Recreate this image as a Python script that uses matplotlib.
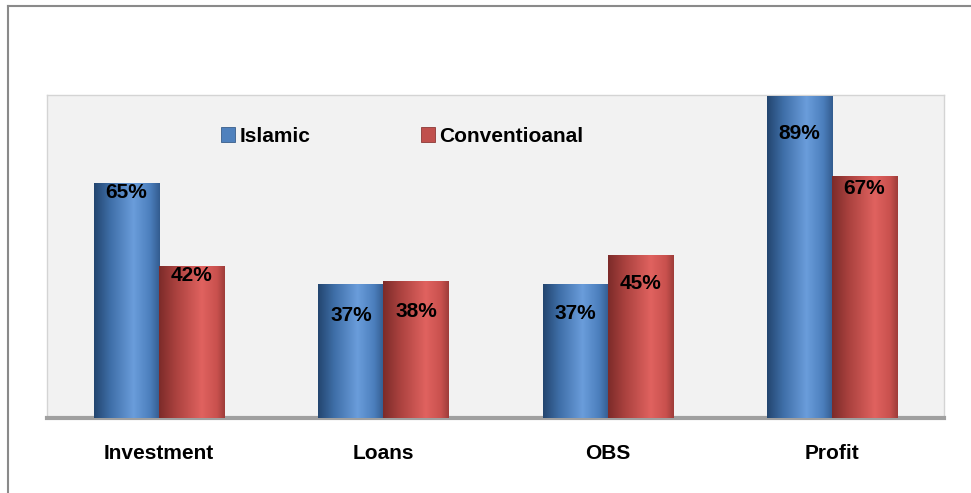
import numpy as np
import matplotlib
matplotlib.use('Agg')
import matplotlib.pyplot as plt
from matplotlib.colors import LinearSegmentedColormap
from matplotlib.lines import Line2D

plt.rcParams['font.family'] = ['Liberation Sans', 'DejaVu Sans']

# Data
categories = ['Investment', 'Loans', 'OBS', 'Profit']
islamic = [65, 37, 37, 89]
conventional = [42, 38, 45, 67]
series_names = ['Islamic', 'Conventioanal']

# label offsets below bar top (pixels)
islamic_label_drop = [10, 31, 29, 37]
conv_label_drop = [9, 31, 28, 13]

W, H = 971, 493
fig = plt.figure(figsize=(W / 100, H / 100), dpi=100)
fig.patch.set_facecolor('white')

# outer chart border (top and left edges)
fig.add_artist(Line2D([8 / W, 1.0], [1 - 6 / H, 1 - 6 / H], transform=fig.transFigure,
                      color='#8a8a8a', lw=1.5))
fig.add_artist(Line2D([8 / W, 8 / W], [0, 1 - 6 / H], transform=fig.transFigure,
                      color='#8a8a8a', lw=1.5))

left, right, top, bottom = 47, 944, 95, 418
ax = fig.add_axes([left / W, 1 - bottom / H, (right - left) / W, (bottom - top) / H])
ax.set_facecolor('#f2f2f2')

x = np.arange(len(categories))
bw = 0.29

blue_cmap = LinearSegmentedColormap.from_list(
    'blue_cyl', [(0, '#23456f'), (0.25, '#3f6fa8'), (0.6, '#6a9ddb'), (0.85, '#4c7fbd'), (1, '#335c8f')])
red_cmap = LinearSegmentedColormap.from_list(
    'red_cyl', [(0, '#7c2b29'), (0.25, '#a9413e'), (0.65, '#e0625f'), (0.88, '#c9514e'), (1, '#9e3d3a')])

b1 = ax.bar(x - bw / 2, islamic, bw, color='#4f81bd', edgecolor='#385d8a', lw=0.6,
            label=series_names[0], zorder=2)
b2 = ax.bar(x + bw / 2, conventional, bw, color='#c0504d', edgecolor='#8c3836', lw=0.6,
            label=series_names[1], zorder=2)

grad = np.linspace(0, 1, 256).reshape(1, -1)
for bars, cmap in [(b1, blue_cmap), (b2, red_cmap)]:
    for p in bars:
        x0, y0 = p.get_x(), p.get_y()
        im = ax.imshow(grad, cmap=cmap, aspect='auto', zorder=3,
                       extent=[x0, x0 + p.get_width(), y0, y0 + p.get_height()])
        im.set_clip_path(p)

for vals, drops, off in [(islamic, islamic_label_drop, -bw / 2), (conventional, conv_label_drop, bw / 2)]:
    for i, (v, d) in enumerate(zip(vals, drops)):
        ax.annotate(f'{v}%', (x[i] + off, v), xytext=(0, -d), textcoords='offset pixels',
                    ha='center', va='center', fontsize=15, fontweight='bold', color='black', zorder=5)

ax.set_xlim(-0.5, len(categories) - 0.5)
ax.set_ylim(0, 89.3)
ax.set_yticks([])
ax.set_xticks(x)
ax.set_xticklabels(categories, fontsize=15, fontweight='bold')
ax.tick_params(axis='x', length=0, pad=19)

for s in ['top', 'left', 'right']:
    ax.spines[s].set_color('#d4d4d4')
    ax.spines[s].set_linewidth(1)
ax.spines['bottom'].set_color('#a0a0a0')
ax.spines['bottom'].set_linewidth(3)

leg = ax.legend(loc='center', bbox_to_anchor=(0.396, 0.873), ncol=2, frameon=False,
                prop={'weight': 'bold', 'size': 15},
                handlelength=0.7, handleheight=0.7, handletextpad=0.2, columnspacing=5.3)

fig.savefig('out.png', dpi=100)
